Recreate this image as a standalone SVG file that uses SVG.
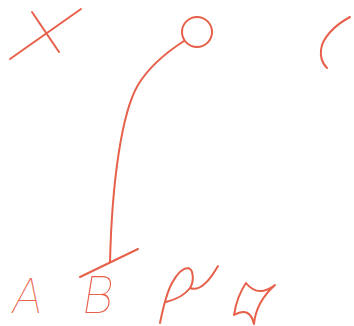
<svg xmlns="http://www.w3.org/2000/svg" width="354" height="326" viewBox="0 0 354 326">
<style>
.s{fill:none;stroke:#e6604a;stroke-width:2;stroke-linecap:round;stroke-linejoin:round}
.t{fill:#e6604a;font-family:"Inter","DejaVu Sans",sans-serif;font-weight:100;font-style:italic}
</style>
<rect width="354" height="326" fill="#ffffff"/>
<g id="cross"><path class="s" d="M10,59 L81,9 M32,12 L59,52"/></g>
<g id="circle"><circle class="s" cx="197" cy="32" r="15"/></g>
<g id="arc"><path class="s" d="M350,17 C335,25 322,38 321,50 C320,58 323,64 327,68"/></g>
<g id="connectors">
<path class="s" d="M184,41 C170,50 150,65 138,85 C122,112 112,180 110,262"/>
<path class="s" d="M80,277 L138,249"/>
</g>
<g id="labelA"><text class="t" x="12" y="313" font-size="48">A</text></g>
<g id="labelB"><text class="t" x="82" y="313" font-size="50">B</text></g>
<g id="rho"><path class="s" d="M160,323 C163,308 166,294 172,283 C177,274 183,268 188,268 C194,269 194,282 190,288 C200,292 210,280 218,266 M190,288 C184,296 174,300 166,302"/></g>
<g id="bowtie"><path class="s" d="M246,283 Q258,298 275,285 Q256,302 254,324 Q250,306 234,315 Q237,296 246,283 Z"/></g>
</svg>
